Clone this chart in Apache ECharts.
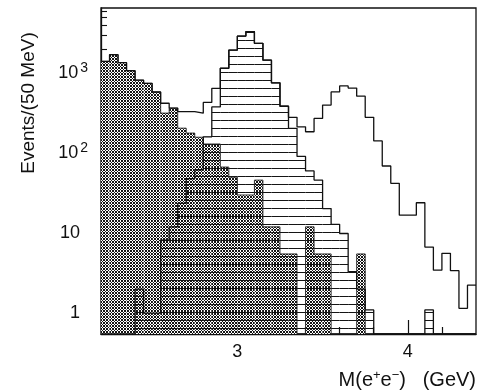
<!doctype html>
<html>
<head>
<meta charset="UTF-8">
<title>M(e+e-) spectrum</title>
<script src="https://cdn.jsdelivr.net/npm/echarts@6/dist/echarts.min.js"></script>
<style>
  html, body { margin: 0; padding: 0; background: #fff; }
  #main { width: 483px; height: 390px; }
</style>
</head>
<body>
<div id="main"></div>
<script>
// 50 MeV bins starting at 2.20 GeV
var binStart = 2.2;
var binWidth = 0.05;

// cross-hatched histogram
var crossHatched = [1400, 1700, 1350, 1070, 815, 745, 580, 316, 365, 205,
                    178, 158, 130, 130, 67, 50, 30, 30, 46, 12,
                    12, 5.5, 5.5, 0, 12, 5.5, 5.5, 0, 0, 0,
                    5.5, 0, 0, 0, 0, 0, 0, 0, 0, 0,
                    0, 0, 0, 0];
// horizontally hatched histogram (J/psi peak)
var horizHatched = [0, 0, 0, 0, 2, 1, 1, 8.2, 12, 23.5,
                    48, 62, 160, 378, 1145, 1940, 2900, 3300, 2350, 1450,
                    755, 385, 204, 91, 60, 46, 20.3, 12.9, 9.9, 3.3,
                    2, 1.1, 0, 0, 0, 0, 0, 0, 1.1, 0,
                    0, 0, 0, 0];
// open histogram
var openHist = [1400, 1700, 1350, 1070, 815, 745, 580, 420, 365, 330,
                330, 315, 430, 645, 1150, 1940, 2900, 3300, 2350, 1450,
                755, 385, 280, 213, 185, 271, 398, 582, 690, 650,
                515, 280, 142, 69, 42, 16.8, 16.8, 24, 6.7, 3.45,
                5.6, 3.4, 1.15, 2.24];

var xMajorTicks = [3, 4];
var xMinorTicks = [2.4, 2.6, 2.8, 3.2, 3.4, 3.6, 3.8, 4.2];
var yMajorTicks = [1, 10, 100, 1000];
var yMinorTicks = [0.6, 0.7, 0.8, 0.9, 2, 3, 4, 5, 6, 7, 8, 9,
                   20, 30, 40, 50, 60, 70, 80, 90,
                   200, 300, 400, 500, 600, 700, 800, 900,
                   2000, 3000, 4000, 5000, 6000];
var yMin = 0.55, yMax = 6500;
var xMin = 2.2, xMax = 4.4;

function makePattern(w, h, on) {
    var c = document.createElement('canvas');
    c.width = w; c.height = h;
    var ctx = c.getContext('2d');
    var img = ctx.createImageData(w, h);
    for (var y = 0; y < h; y++) {
        for (var x = 0; x < w; x++) {
            var k = (y * w + x) * 4;
            if (on(x, y)) {
                img.data[k] = 20; img.data[k + 1] = 20; img.data[k + 2] = 20; img.data[k + 3] = 255;
            } else {
                img.data[k] = 255; img.data[k + 1] = 255; img.data[k + 2] = 255; img.data[k + 3] = 0;
            }
        }
    }
    ctx.putImageData(img, 0, 0);
    return c;
}

// 45 degree cross-hatch, white between the lines
var crossCanvas = makePattern(3, 3, function (x, y) {
    return (x + y) % 3 === 0 || (x - y + 3) % 3 === 0;
});
var crossFill = makePattern(3, 3, function () { return false; });
var lineCanvas = makePattern(8, 8, function (x, y) { return y === 0; });

function binData(arr) {
    var out = [];
    arr.forEach(function (v, i) {
        if (v > 0) out.push([binStart + i * binWidth, v]);
    });
    return out;
}

function stepData(arr) {
    var out = [];
    arr.forEach(function (v, i) {
        out.push([binStart + i * binWidth, Math.max(v, yMin)]);
    });
    out.push([binStart + arr.length * binWidth, Math.max(arr[arr.length - 1], yMin)]);
    return out;
}

function fillRender(pattern, bg) {
    return function (params, api) {
        var x0 = api.value(0), v = api.value(1);
        var p0 = api.coord([x0, v]);
        var p1 = api.coord([x0 + binWidth, yMin]);
        var shape = { x: p0[0], y: p0[1], width: p1[0] - p0[0], height: p1[1] - p0[1] };
        var kids = [];
        if (bg) kids.push({ type: 'rect', shape: shape, style: { fill: bg } });
        kids.push({ type: 'rect', shape: shape, style: { fill: { image: pattern, repeat: 'repeat' } } });
        return { type: 'group', children: kids };
    };
}

var yLabelText = {
    1: '{np|1}',
    10: '{np|10}',
    100: '{n|10}{s|2}',
    1000: '{n|10}{s|3}'
};

var chart = echarts.init(document.getElementById('main'), null, { renderer: 'canvas' });

var font = 'Liberation Sans, Arial, sans-serif';

var option = {
    backgroundColor: '#fff',
    animation: false,
    grid: {
        left: 101, right: 7, top: 8, bottom: 56,
        show: true, borderColor: '#111', borderWidth: 1.3, backgroundColor: 'transparent'
    },
    xAxis: [{
        type: 'value', min: xMin, max: xMax, position: 'bottom',
        axisLine: { show: true, lineStyle: { color: '#111', width: 1.3 } },
        axisTick: { show: true, inside: true, length: 14, customValues: xMajorTicks,
                    lineStyle: { color: '#111', width: 1.2 } },
        axisLabel: { show: true, customValues: xMajorTicks, margin: 9,
                     color: '#111', fontSize: 18, fontFamily: font },
        splitLine: { show: false }
    }, {
        type: 'value', min: xMin, max: xMax, position: 'bottom',
        axisLine: { show: false },
        axisTick: { show: true, inside: true, length: 7, customValues: xMinorTicks,
                    lineStyle: { color: '#111', width: 1.2 } },
        axisLabel: { show: false },
        splitLine: { show: false }
    }],
    yAxis: [{
        type: 'log', logBase: 10, min: yMin, max: yMax, position: 'left',
        axisLine: { show: true, lineStyle: { color: '#111', width: 1.3 } },
        axisTick: { show: true, inside: true, length: 10, customValues: yMajorTicks,
                    lineStyle: { color: '#111', width: 1.2 } },
        axisLabel: {
            show: true, customValues: yMajorTicks, margin: 13, color: '#111',
            formatter: function (v) { return yLabelText[Math.round(v)] || ''; },
            rich: {
                n: { fontSize: 18, fontFamily: font, color: '#111' },
                np: { fontSize: 18, fontFamily: font, color: '#111', padding: [0, 8, 0, 0] },
                s: { fontSize: 14, fontFamily: font, color: '#111', padding: [0, 0, 10, 2] }
            }
        },
        splitLine: { show: false }
    }, {
        type: 'log', logBase: 10, min: yMin, max: yMax, position: 'left',
        axisLine: { show: false },
        axisTick: { show: true, inside: true, length: 6, customValues: yMinorTicks,
                    lineStyle: { color: '#111', width: 1.1 } },
        axisLabel: { show: false },
        splitLine: { show: false }
    }],
    graphic: [{
        type: 'text', x: 29, y: 103, rotation: Math.PI / 2,
        style: { text: 'Events/(50 MeV)', fontSize: 19, fontFamily: font, fill: '#111',
                 align: 'center', verticalAlign: 'middle' }
    }, {
        type: 'text', x: 476, y: 380,
        style: {
            text: '{a|M(e}{s|+}{a|e}{s|\u2212}{a|)   (GeV)}',
            align: 'right', verticalAlign: 'middle',
            rich: {
                a: { fontSize: 20, fontFamily: font, fill: '#111' },
                s: { fontSize: 13, fontFamily: font, fill: '#111', padding: [0, 0, 9, 0] }
            }
        }
    }],
    series: [{
        name: 'cross', type: 'custom', xAxisIndex: 0, yAxisIndex: 0, z: 1,
        renderItem: fillRender(crossCanvas, '#fff'), encode: { x: 0, y: 1 },
        data: binData(crossHatched), clip: true
    }, {
        name: 'horiz', type: 'custom', xAxisIndex: 0, yAxisIndex: 0, z: 2,
        renderItem: fillRender(lineCanvas, null), encode: { x: 0, y: 1 },
        data: binData(horizHatched), clip: true
    }, {
        name: 'crossLine', type: 'line', xAxisIndex: 0, yAxisIndex: 0, z: 3,
        step: 'end', symbol: 'none', data: stepData(crossHatched),
        lineStyle: { color: '#222', width: 0.9 }
    }, {
        name: 'horizLine', type: 'line', xAxisIndex: 0, yAxisIndex: 0, z: 4,
        step: 'end', symbol: 'none', data: stepData(horizHatched),
        lineStyle: { color: '#111', width: 1.3 }
    }, {
        name: 'open', type: 'line', xAxisIndex: 0, yAxisIndex: 0, z: 5,
        step: 'end', symbol: 'none', data: stepData(openHist),
        lineStyle: { color: '#111', width: 1.3 }
    }]
};

chart.setOption(option);
</script>
</body>
</html>
